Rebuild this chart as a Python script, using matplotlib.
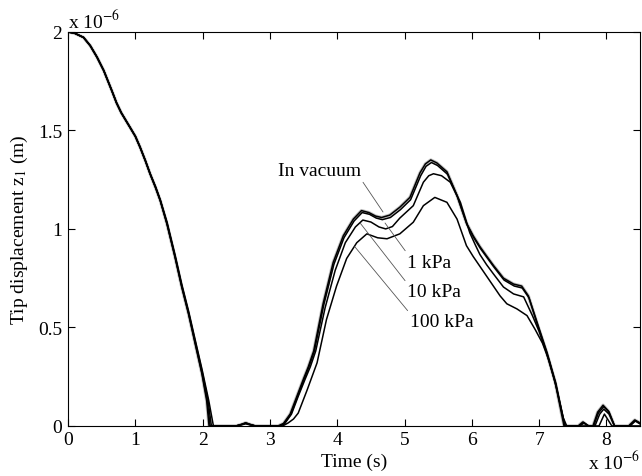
import numpy as np
import matplotlib
matplotlib.use('Agg')
import matplotlib.pyplot as plt

plt.rcParams['font.family'] = ['Liberation Serif', 'DejaVu Serif']
plt.rcParams['mathtext.fontset'] = 'stix'
plt.rcParams['font.size'] = 14

# time in units of 1e-6 s, tip displacement in units of 1e-6 m
vacuum = [(0, 2.0), (0.1, 1.993), (0.23, 1.972), (0.33, 1.93), (0.43, 1.872), (0.53, 1.804),
          (0.65, 1.702), (0.72, 1.64), (0.79, 1.59), (0.86, 1.55), (0.92, 1.516), (1.0, 1.47),
          (1.07, 1.415), (1.15, 1.345), (1.22, 1.279), (1.30, 1.21), (1.37, 1.144), (1.47, 1.025),
          (1.59, 0.856), (1.69, 0.704), (1.79, 0.569), (1.89, 0.416), (1.99, 0.264), (2.06, 0.128),
          (2.095, 0), (2.5, 0), (2.58, 0.008), (2.64, 0.016), (2.70, 0.008), (2.78, 0),
          (3.12, 0), (3.20, 0.012), (3.30, 0.06), (3.40, 0.15), (3.50, 0.24), (3.57, 0.30),
          (3.65, 0.38), (3.79, 0.62), (3.94, 0.83), (4.09, 0.965), (4.24, 1.05), (4.36, 1.093),
          (4.47, 1.083), (4.57, 1.065), (4.66, 1.058), (4.78, 1.07), (4.93, 1.11), (5.08, 1.16),
          (5.23, 1.285), (5.31, 1.33), (5.39, 1.35), (5.48, 1.335), (5.63, 1.29), (5.78, 1.17),
          (5.92, 1.03), (6.02, 0.965), (6.12, 0.91), (6.22, 0.862), (6.32, 0.815), (6.47, 0.75),
          (6.62, 0.72), (6.74, 0.71), (6.84, 0.66), (6.96, 0.53), (7.11, 0.375), (7.24, 0.22),
          (7.34, 0.05), (7.37, 0), (7.58, 0), (7.65, 0.02), (7.72, 0), (7.80, 0), (7.87, 0.07),
          (7.95, 0.105), (8.03, 0.075), (8.12, 0), (8.33, 0), (8.42, 0.03), (8.5, 0.015)]

kpa1 = [(0, 2.0), (0.1, 1.993), (0.23, 1.972), (0.33, 1.93), (0.43, 1.872), (0.53, 1.804),
        (0.65, 1.702), (0.72, 1.64), (0.79, 1.59), (0.86, 1.55), (0.92, 1.516), (1.0, 1.47),
        (1.07, 1.415), (1.15, 1.345), (1.22, 1.279), (1.30, 1.21), (1.37, 1.144), (1.47, 1.026),
        (1.59, 0.858), (1.69, 0.707), (1.79, 0.572), (1.89, 0.42), (1.99, 0.268), (2.07, 0.125),
        (2.11, 0), (2.5, 0), (2.58, 0.008), (2.64, 0.015), (2.70, 0.008), (2.78, 0),
        (3.14, 0), (3.21, 0.012), (3.31, 0.06), (3.41, 0.15), (3.51, 0.24), (3.58, 0.30),
        (3.66, 0.38), (3.80, 0.615), (3.95, 0.82), (4.10, 0.955), (4.25, 1.04), (4.37, 1.083),
        (4.48, 1.074), (4.58, 1.055), (4.67, 1.047), (4.79, 1.058), (4.94, 1.098), (5.09, 1.148),
        (5.24, 1.27), (5.32, 1.318), (5.40, 1.337), (5.49, 1.322), (5.64, 1.277), (5.79, 1.16),
        (5.93, 1.02), (6.03, 0.955), (6.13, 0.90), (6.23, 0.853), (6.33, 0.806), (6.48, 0.74),
        (6.63, 0.71), (6.75, 0.70), (6.85, 0.65), (6.97, 0.525), (7.12, 0.37), (7.25, 0.215),
        (7.35, 0.05), (7.38, 0), (7.59, 0), (7.66, 0.018), (7.73, 0), (7.81, 0), (7.88, 0.065),
        (7.96, 0.098), (8.04, 0.07), (8.12, 0), (8.34, 0), (8.43, 0.028), (8.5, 0.012)]

kpa10 = [(0, 2.0), (0.1, 1.993), (0.23, 1.972), (0.33, 1.93), (0.43, 1.872), (0.53, 1.804),
         (0.65, 1.702), (0.72, 1.64), (0.79, 1.59), (0.86, 1.55), (0.92, 1.516), (1.0, 1.47),
         (1.07, 1.415), (1.15, 1.345), (1.22, 1.279), (1.30, 1.212), (1.37, 1.146), (1.47, 1.03),
         (1.59, 0.862), (1.69, 0.712), (1.79, 0.577), (1.89, 0.427), (1.99, 0.277), (2.08, 0.13),
         (2.13, 0), (2.5, 0), (2.58, 0.007), (2.64, 0.013), (2.70, 0.007), (2.78, 0),
         (3.15, 0), (3.22, 0.012), (3.32, 0.06), (3.42, 0.15), (3.52, 0.235), (3.60, 0.30),
         (3.68, 0.38), (3.82, 0.60), (3.97, 0.79), (4.12, 0.93), (4.27, 1.01), (4.38, 1.045),
         (4.50, 1.035), (4.62, 1.01), (4.72, 1.0), (4.82, 1.012), (4.93, 1.055), (5.13, 1.118),
         (5.28, 1.237), (5.36, 1.27), (5.43, 1.28), (5.55, 1.27), (5.68, 1.237), (5.83, 1.135),
         (5.97, 0.98), (6.05, 0.92), (6.12, 0.87), (6.22, 0.818), (6.32, 0.772), (6.47, 0.705),
         (6.62, 0.67), (6.77, 0.655), (6.90, 0.56), (7.00, 0.48), (7.11, 0.37), (7.24, 0.22),
         (7.35, 0.05), (7.39, 0), (7.60, 0), (7.67, 0.015), (7.74, 0), (7.83, 0), (7.90, 0.06),
         (7.96, 0.085), (8.04, 0.06), (8.12, 0), (8.35, 0), (8.43, 0.025), (8.5, 0.01)]

kpa100 = [(0, 2.0), (0.1, 1.993), (0.23, 1.972), (0.33, 1.93), (0.43, 1.872), (0.53, 1.804),
          (0.65, 1.702), (0.72, 1.64), (0.79, 1.59), (0.86, 1.55), (0.92, 1.516), (1.0, 1.47),
          (1.07, 1.415), (1.15, 1.346), (1.22, 1.28), (1.30, 1.215), (1.37, 1.148), (1.47, 1.035),
          (1.59, 0.868), (1.69, 0.718), (1.79, 0.583), (1.89, 0.435), (1.99, 0.288), (2.09, 0.13),
          (2.16, 0), (2.5, 0), (2.58, 0.006), (2.64, 0.011), (2.70, 0.006), (2.78, 0),
          (3.19, 0), (3.27, 0.015), (3.35, 0.035), (3.42, 0.065), (3.55, 0.18), (3.70, 0.32),
          (3.84, 0.54), (3.99, 0.71), (4.14, 0.85), (4.29, 0.93), (4.44, 0.975), (4.60, 0.955),
          (4.74, 0.95), (4.93, 0.975), (5.13, 1.034), (5.28, 1.118), (5.45, 1.16), (5.63, 1.135),
          (5.78, 1.05), (5.92, 0.915), (6.02, 0.86), (6.12, 0.81), (6.22, 0.76), (6.32, 0.71),
          (6.42, 0.66), (6.52, 0.62), (6.67, 0.594), (6.82, 0.56), (6.94, 0.49), (7.05, 0.42),
          (7.15, 0.33), (7.26, 0.19), (7.36, 0.04), (7.41, 0), (7.89, 0), (7.97, 0.06),
          (8.08, 0), (8.5, 0)]

fig = plt.figure(figsize=(6.42, 4.77), dpi=100)
ax = fig.add_axes([0.106, 0.105, 0.891, 0.826])

# light grey halo under the vacuum curve
v = np.array(vacuum)
ax.plot(v[:, 0], v[:, 1], color='#c4c4c4', lw=2.4, zorder=1)
for curve in [vacuum, kpa1, kpa10, kpa100]:
    c = np.array(curve)
    ax.plot(c[:, 0], c[:, 1], color='black', lw=1.1, zorder=2)

ax.set_xlim(0, 8.5)
ax.set_ylim(0, 2)
ax.set_xticks(range(9))
ax.set_yticks([0, 0.5, 1, 1.5, 2])
ax.set_yticklabels(['0', '0.5', '1', '1.5', '2'])
ax.tick_params(direction='in', top=True, right=True, length=5, width=0.8, pad=4)
for s in ax.spines.values():
    s.set_linewidth(0.8)

ax.set_xlabel('Time (s)', labelpad=3)
ax.set_ylabel('Tip displacement z$_1$ (m)', labelpad=6)

# labels with leader lines
lead = dict(arrowstyle='-', color='#555555', lw=0.6, shrinkA=0, shrinkB=0)
ax.annotate('In vacuum', xy=(4.68, 1.086), xytext=(3.12, 1.294), ha='left', va='center',
            arrowprops=dict(lead, relpos=(1, 0)))
ax.annotate('1 kPa', xy=(4.71, 1.03), xytext=(5.04, 0.832), ha='left', va='center',
            arrowprops=dict(lead, relpos=(0, 1)))
ax.annotate('10 kPa', xy=(4.34, 1.03), xytext=(5.04, 0.68), ha='left', va='center',
            arrowprops=dict(lead, relpos=(0, 1)))
ax.annotate('100 kPa', xy=(4.26, 0.91), xytext=(5.08, 0.528), ha='left', va='center',
            arrowprops=dict(lead, relpos=(0, 1)))

fig.text(0.106, 0.941, 'x 10$^{-6}$', ha='left', va='baseline')
fig.text(0.997, 0.015, 'x 10$^{-6}$', ha='right', va='baseline')

plt.savefig('out.png', dpi=100)
